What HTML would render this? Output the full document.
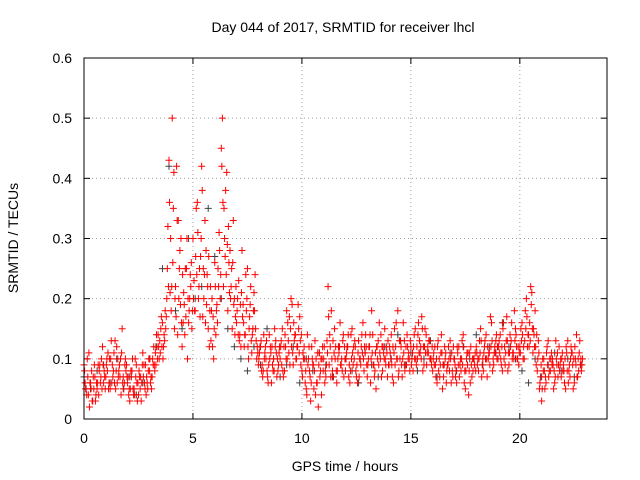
<!DOCTYPE html>
<html><head><meta charset="utf-8"><style>
body{margin:0;background:#fff}
svg{display:block;font-family:"Liberation Sans",sans-serif}
</style></head><body>
<svg id="chart" width="640" height="480">
<rect width="640" height="480" fill="#fff"/>
<text x="343" y="32" font-size="14" text-anchor="middle">Day 044 of 2017, SRMTID for receiver lhcl</text>
<text x="345" y="471" font-size="14" text-anchor="middle">GPS time / hours</text>
<text transform="translate(18,238) rotate(-90)" font-size="14" text-anchor="middle">SRMTID / TECUs</text>
<g id="grid"></g>
<g id="ticks"></g>
<g id="marks"></g>
<rect x="84" y="58" width="523" height="361" fill="none" stroke="#000" stroke-width="1"/>
</svg>
<script>
const xTicks=[0,5,10,15,20];
const yTicks=[0,0.1,0.2,0.3,0.4,0.5,0.6];
const yTickLabels=["0","0.1","0.2","0.3","0.4","0.5","0.6"];
const redStart=0, redStep=0.1, blackStep=0.3;
const redA=[.09,.05,.04,.06,.03,.07,.05,.08,.1,.06,
.07,.11,.05,.09,.06,.12,.08,.04,.07,.1,
.06,.03,.08,.05,.09,.04,.07,.11,.05,.06,
.08,.05,.12,.09,.14,.11,.16,.13,.2,.43,
.18,.35,.22,.14,.28,.12,.19,.25,.16,.22,
.3,.18,.36,.25,.42,.2,.28,.15,.22,.12,
.26,.19,.31,.45,.22,.38,.18,.28,.15,.2,
.16,.23,.12,.19,.14,.25,.17,.11,.21,.13,
.09,.12,.07,.11,.08,.14,.06,.1,.13,.08,
.1,.15,.08,.18,.11,.2,.09,.14,.12,.17,
.08,.12,.05,.1,.03,.09,.13,.06,.11,.04,
.1,.07,.22,.12,.08,.15,.06,.11,.09,.14,
.08,.12,.06,.15,.1,.07,.13,.09,.16,.11,
.07,.12,.18,.09,.05,.13,.1,.08,.15,.11,
.09,.14,.06,.12,.18,.1,.07,.13,.09,.11,
.12,.08,.15,.1,.13,.17,.09,.14,.11,.1,
.08,.12,.06,.1,.14,.07,.11,.09,.13,.08,
.1,.06,.12,.08,.14,.05,.09,.11,.07,.1,
.12,.08,.15,.1,.13,.07,.11,.16,.09,.13,
.1,.14,.08,.12,.17,.09,.13,.11,.15,.1,
.12,.16,.1,.2,.14,.22,.11,.18,.08,.05,
.03,.1,.06,.13,.08,.1,.06,.09,.12,.07,
.09,.05,.13,.07,.11,.06,.14,.08,.1];
const redB=[.06,.1,.02,.08,.05,.04,.09,.06,.12,.07,
.1,.06,.13,.08,.05,.1,.07,.15,.06,.09,
.04,.08,.05,.1,.03,.07,.06,.09,.04,.08,
.06,.1,.08,.12,.1,.17,.12,.15,.32,.21,
.5,.15,.42,.2,.3,.16,.25,.1,.2,.15,
.23,.35,.2,.27,.17,.33,.24,.12,.18,.1,
.14,.25,.2,.5,.3,.41,.26,.22,.33,.17,
.2,.14,.28,.12,.18,.1,.22,.15,.24,.12,
.11,.08,.14,.1,.06,.12,.09,.15,.07,.11,
.13,.07,.12,.16,.09,.19,.13,.1,.15,.09,
.11,.06,.14,.08,.12,.05,.1,.02,.08,.12,
.06,.13,.09,.18,.07,.12,.1,.16,.08,.12,
.11,.07,.14,.09,.12,.06,.1,.14,.08,.12,
.1,.06,.14,.08,.12,.16,.07,.11,.09,.13,
.11,.07,.15,.1,.08,.12,.16,.09,.12,.08,
.1,.14,.09,.16,.12,.08,.15,.11,.13,.09,
.11,.07,.13,.09,.05,.12,.08,.1,.06,.12,
.07,.11,.09,.13,.06,.1,.04,.12,.08,.11,
.09,.13,.07,.11,.14,.1,.17,.08,.12,.1,
.13,.09,.16,.11,.08,.14,.1,.18,.12,.09,
.15,.1,.18,.12,.16,.21,.14,.09,.13,.07,
.1,.05,.12,.08,.11,.05,.13,.07,.09,.11,
.06,.11,.08,.12,.05,.1,.07,.13,.09];
const redC=[.08,.04,.11,.05,.07,.03,.06,.09,.05,.08,
.09,.05,.1,.07,.13,.06,.09,.11,.05,.08,
.07,.05,.1,.04,.06,.08,.03,.07,.09,.05,
.1,.07,.09,.14,.12,.15,.1,.18,.25,.36,
.22,.41,.17,.33,.19,.24,.14,.3,.18,.26,
.2,.27,.31,.17,.38,.24,.19,.27,.13,.17,
.22,.16,.28,.42,.35,.24,.32,.2,.26,.14,
.18,.13,.21,.16,.24,.12,.19,.14,.18,.1,
.1,.13,.08,.12,.07,.1,.12,.08,.11,.09,
.12,.08,.14,.1,.17,.12,.16,.1,.19,.13,
.07,.1,.04,.12,.06,.09,.04,.11,.07,.1,
.12,.09,.17,.07,.13,.1,.08,.12,.1,.07,
.1,.14,.08,.11,.13,.09,.07,.12,.1,.14,
.09,.14,.11,.07,.12,.09,.14,.12,.1,.07,
.12,.09,.11,.16,.07,.13,.1,.08,.14,.1,
.09,.12,.1,.14,.11,.15,.12,.09,.13,.1,
.1,.09,.12,.07,.11,.09,.06,.12,.1,.07,
.09,.12,.07,.1,.12,.08,.11,.06,.1,.09,
.11,.1,.13,.08,.1,.12,.09,.13,.11,.14,
.12,.1,.15,.09,.13,.11,.16,.1,.14,.12,
.11,.14,.13,.17,.12,.19,.15,.12,.1,.06,
.05,.08,.11,.07,.1,.09,.07,.11,.08,.1,
.08,.12,.06,.1,.09,.12,.07,.11,.08];
const redD=[.05,.07,.06,.03,.09,.06,.04,.07,.09,.05,
.08,.1,.06,.11,.08,.07,.1,.06,.09,.07,
.05,.07,.04,.07,.06,.05,.09,.06,.07,.1,
.07,.09,.11,.1,.13,.12,.14,.17,.22,.3,
.26,.2,.33,.25,.16,.21,.17,.2,.24,.18,
.18,.24,.22,.3,.25,.16,.22,.18,.2,.15,
.18,.22,.24,.36,.27,.29,.21,.25,.19,.22,
.14,.19,.17,.14,.2,.15,.13,.18,.15,.11,
.12,.09,.1,.13,.09,.11,.08,.12,.1,.12,
.09,.12,.1,.13,.15,.11,.14,.12,.11,.14,
.1,.08,.09,.07,.1,.08,.06,.09,.1,.08,
.08,.11,.14,.1,.11,.08,.12,.09,.13,.1,
.12,.09,.1,.12,.08,.11,.1,.11,.12,.09,
.12,.1,.09,.11,.1,.11,.12,.1,.12,.09,
.1,.12,.09,.1,.13,.09,.11,.12,.1,.13,
.11,.1,.12,.11,.1,.12,.11,.12,.1,.12,
.09,.1,.08,.11,.09,.1,.09,.08,.11,.1,
.08,.09,.1,.09,.08,.11,.08,.09,.1,.08,
.1,.11,.09,.12,.1,.11,.12,.1,.11,.12,
.11,.12,.1,.13,.11,.12,.11,.13,.1,.11,
.13,.12,.15,.14,.13,.15,.12,.14,.11,.09,
.08,.07,.09,.1,.09,.08,.1,.09,.1,.08,
.1,.08,.09,.11,.1,.09,.1,.09,.1];
const black=[.07,.05,.08,.09,.06,.1,.05,.07,.04,.06,.1,.12,.25,.42,.18,.15,.3,.2,.22,.35,.27,.2,.15,.12,.1,.08,.12,.09,.15,.1,.07,.09,.12,.06,.1,.08,.11,.09,.07,.12,.1,.08,.06,.11,.09,.07,.12,.1,.14,.09,.11,.08,.1,.13,.07,.09,.11,.08,.12,.1,.14,.09,.12,.11,.16,.12,.1,.08,.06,.1,.07,.09,.11,.08,.1,.07,.09];

const NS="http://www.w3.org/2000/svg";
const X0=84,X1=607,Y0=419,Y1=58,XMAX=24,YMAX=0.6;
const sx=v=>X0+v/XMAX*(X1-X0);
const sy=v=>Y0-v/YMAX*(Y0-Y1);
function mk(tag,at,parent){const e=document.createElementNS(NS,tag);for(const k in at)e.setAttribute(k,at[k]);parent.appendChild(e);return e;}
const grid=document.getElementById('grid'),ticks=document.getElementById('ticks'),marks=document.getElementById('marks');
xTicks.forEach((t,i)=>{
  const x=sx(t);
  if(t>0){const g=mk('line',{x1:x,x2:x,y1:Y1,y2:Y0,stroke:'#a0a0a0','stroke-dasharray':'1,3'},grid);
  
  }
  mk('line',{x1:x,x2:x,y1:Y0,y2:Y0-6,stroke:'#000'},ticks);
  mk('line',{x1:x,x2:x,y1:Y1,y2:Y1+6,stroke:'#000'},ticks);
  const l=mk('text',{x:x,y:Y0+24,'font-size':14,'text-anchor':'middle'},ticks);
  l.textContent=String(t);
  
  
});
yTicks.forEach((t,i)=>{
  const y=sy(t);
  if(t>0&&t<YMAX){const g=mk('line',{x1:X0,x2:X1,y1:y,y2:y,stroke:'#a0a0a0','stroke-dasharray':'1,3'},grid);
  
  }
  mk('line',{x1:X0,x2:X0+6,y1:y,y2:y,stroke:'#000'},ticks);
  mk('line',{x1:X1,x2:X1-6,y1:y,y2:y,stroke:'#000'},ticks);
  const l=mk('text',{x:X0-12,y:y+5,'font-size':14,'text-anchor':'end'},ticks);
  l.textContent=yTickLabels[i];
  
  
});
function plus(t,v,color,name){
  const x=sx(t),y=sy(v);
  const p=mk('path',{d:`M${x-3.5},${y}h7M${x},${y-3.5}v7`,stroke:color,'stroke-width':1,fill:'none'},marks);
  
  
}
black.forEach((v,i)=>{const t=redStart+i*blackStep;if(t<=22.8)plus(t,v,'#404040','black-point');});
redA.forEach((v,i)=>plus(redStart+i*redStep,v,'#ff0000','red-point'));
redB.forEach((v,i)=>plus(redStart+i*redStep+0.05,v,'#ff0000','red-point'));
redC.forEach((v,i)=>plus(redStart+i*redStep+0.025,v,'#ff0000','red-point'));
redD.forEach((v,i)=>plus(redStart+i*redStep+0.075,v,'#ff0000','red-point'));
</script>
</body></html>
